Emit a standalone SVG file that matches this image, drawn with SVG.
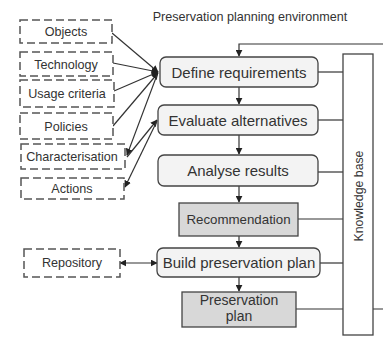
<svg xmlns="http://www.w3.org/2000/svg" width="383" height="338" viewBox="0 0 383 338">
<defs>
<marker id="ah" viewBox="0 0 10 10" refX="9" refY="5" markerWidth="7" markerHeight="7" orient="auto-start-reverse" markerUnits="userSpaceOnUse">
<path d="M0,0 L10,5 L0,10 z" fill="#222"/>
</marker>
<style>
text{font-family:"Liberation Sans",Arial,sans-serif;fill:#333;text-anchor:middle}
.dash{fill:#fff;stroke:#555;stroke-width:1.5;stroke-dasharray:8 4}
.proc{fill:#f3f3f3;stroke:#444;stroke-width:1.3}
.res{fill:#d8d8d8;stroke:#444;stroke-width:1.3}
.kb{fill:#fff;stroke:#444;stroke-width:1.3}
.c{fill:none;stroke:#333;stroke-width:1.2}
.a{marker-end:url(#ah)}
.b{marker-start:url(#ah);marker-end:url(#ah)}
.t1{font-size:12.6px}
.t2{font-size:15px}
</style>
</defs>
<rect width="383" height="338" fill="#fff"/>
<text x="250" y="21" style="font-size:12.6px">Preservation planning environment</text>

<g id="connectors">
<path class="c a" d="M383,44 H239 V56"/>
<path class="c a" d="M239,87 V104"/>
<path class="c a" d="M239,135 V154"/>
<path class="c a" d="M239,186 V202"/>
<path class="c a" d="M239,236 V247"/>
<path class="c a" d="M239,277 V291"/>
<path class="c" d="M318,72 H343"/>
<path class="c" d="M318,120 H343"/>
<path class="c" d="M318,172 H343"/>
<path class="c" d="M298,219 H343"/>
<path class="c" d="M320,263 H343"/>
<path class="c" d="M296,309 H343 M373,309 H384"/>
<path class="c a" d="M112,33 L158,72"/>
<path class="c a" d="M113,63 L158,72"/>
<path class="c a" d="M114,91 L158,72"/>
<path class="c a" d="M113,126 L158,73"/>
<path class="c a" d="M157,75 L127,155"/>
<path class="c a" d="M127,157 L157,120"/>
<path class="c a" d="M157,121 L125,187"/>
<path class="c b" d="M120,263 L157,263"/>
</g>

<g id="objects"><rect class="dash" x="20" y="20" width="92" height="23"/><text class="t1" x="66" y="36">Objects</text></g>
<g id="technology"><rect class="dash" x="20" y="52" width="93" height="24"/><text class="t1" x="66" y="68.5">Technology</text></g>
<g id="usage"><rect class="dash" x="20" y="80" width="94" height="27"/><text class="t1" x="67" y="98">Usage criteria</text></g>
<g id="policies"><rect class="dash" x="20" y="113" width="93" height="26"/><text class="t1" x="66" y="130.5">Policies</text></g>
<g id="characterisation"><rect class="dash" x="21" y="144" width="104" height="25"/><text class="t1" x="72" y="161">Characterisation</text></g>
<g id="actions"><rect class="dash" x="21" y="178" width="103" height="21"/><text class="t1" x="72" y="193">Actions</text></g>
<g id="repository"><rect class="dash" x="24" y="249" width="96" height="28"/><text class="t1" x="72" y="267">Repository</text></g>

<g id="define"><rect class="proc" x="160" y="57" width="158" height="30" rx="6"/><text class="t2" x="239" y="77.5">Define requirements</text></g>
<g id="evaluate"><rect class="proc" x="158" y="105" width="160" height="30" rx="6"/><text class="t2" x="238" y="125.5">Evaluate alternatives</text></g>
<g id="analyse"><rect class="proc" x="158" y="155" width="160" height="31" rx="6"/><text class="t2" x="238" y="176">Analyse results</text></g>
<g id="recommendation"><rect class="res" x="179" y="203" width="119" height="33"/><text x="238.5" y="224" style="font-size:13.3px">Recommendation</text></g>
<g id="build"><rect class="proc" x="157" y="248" width="163" height="29" rx="6"/><text class="t2" x="239" y="268">Build preservation plan</text></g>
<g id="plan"><rect class="res" x="182" y="292" width="114" height="35"/><text x="239" y="305" style="font-size:14px">Preservation</text><text x="239" y="321" style="font-size:14px">plan</text></g>
<g id="kb"><rect class="kb" x="343" y="54" width="30" height="281"/><text transform="translate(362.5,196) rotate(-90)" style="font-size:12.3px">Knowledge base</text></g>
</svg>
